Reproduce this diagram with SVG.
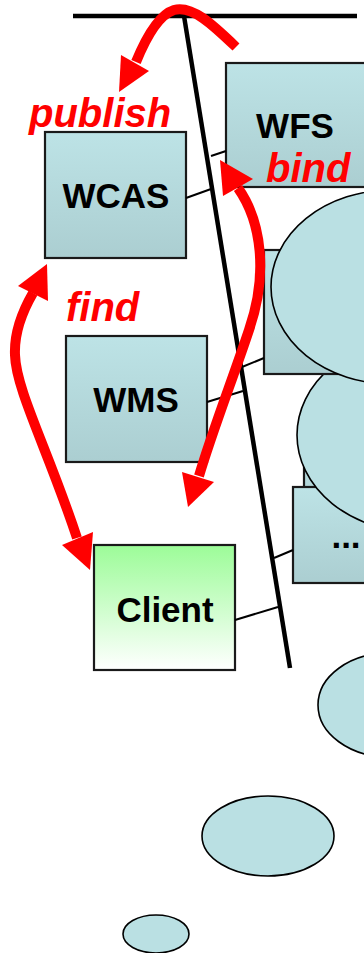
<svg xmlns="http://www.w3.org/2000/svg" width="364" height="953" viewBox="0 0 364 953">
<defs>
<linearGradient id="gBlue" x1="0" y1="0" x2="0" y2="1">
<stop offset="0" stop-color="#bde3e6"/>
<stop offset="1" stop-color="#abced1"/>
</linearGradient>
<linearGradient id="gGreen" x1="0" y1="0" x2="0" y2="1">
<stop offset="0" stop-color="#9cfc98"/>
<stop offset="1" stop-color="#ffffff"/>
</linearGradient>
<style>
.box{fill:url(#gBlue);stroke:#1a1a1a;stroke-width:2.2}
.client{fill:url(#gGreen);stroke:#1a1a1a;stroke-width:2.2}
.ell{fill:#bae0e3;stroke:#000;stroke-width:1.6}
.lbl{font-family:"Liberation Sans",Arial,sans-serif;font-weight:bold;font-size:35px;fill:#000;text-anchor:middle}
.red{font-family:"Liberation Sans",Arial,sans-serif;font-weight:bold;font-style:italic;font-size:40px;fill:#ff0000}
.conn{stroke:#000;stroke-width:2;fill:none}
.bus{stroke:#000;stroke-width:4.5;fill:none}
.arr{stroke:#ff0000;stroke-width:10;fill:none}
.head{fill:#ff0000}
</style>
</defs>
<rect width="364" height="953" fill="#fff"/>
<g id="ellipse3"><ellipse class="ell" cx="389" cy="705" rx="71" ry="52"/></g>
<g id="ellipse4"><ellipse class="ell" cx="268" cy="836" rx="66" ry="40"/></g>
<g id="ellipse5"><ellipse class="ell" cx="156" cy="934" rx="33" ry="19"/></g>
<g id="service2"><rect class="box" x="304" y="420" width="140" height="110"/></g>
<g id="more"><rect class="box" x="293" y="487" width="140" height="96"/><text class="lbl" x="346" y="548">...</text></g>
<g id="ellipse2"><ellipse class="ell" cx="417" cy="435" rx="120" ry="97"/></g>
<g id="service1"><rect class="box" x="264" y="250" width="140" height="124"/></g>
<g id="ellipse1"><ellipse class="ell" cx="391" cy="287" rx="120" ry="97"/></g>
<g id="wfs"><rect class="box" x="226" y="63" width="140" height="124"/><text class="lbl" x="295" y="138">WFS</text></g>
<g id="wcas"><rect class="box" x="45" y="132" width="141" height="126"/><text class="lbl" x="116" y="208">WCAS</text></g>
<g id="wms"><rect class="box" x="66" y="336" width="141" height="126"/><text class="lbl" x="136" y="412">WMS</text></g>
<g id="client"><rect class="client" x="94" y="545" width="141" height="125"/><text class="lbl" x="165" y="622">Client</text></g>
<g id="connectors">
<line class="bus" x1="73" y1="16" x2="357" y2="16"/>
<line class="bus" x1="184" y1="16" x2="290" y2="668"/>
<line class="conn" x1="186" y1="198" x2="211" y2="189"/>
<line class="conn" x1="211" y1="156" x2="226" y2="151"/>
<line class="conn" x1="242" y1="367" x2="264" y2="358"/>
<line class="conn" x1="207" y1="402" x2="243" y2="391"/>
<line class="conn" x1="274" y1="558" x2="293" y2="550"/>
<line class="conn" x1="235" y1="620" x2="278" y2="607"/>
</g>
<g id="arrows">
<path class="arr" d="M236,47 C212,24 192,5 174,10 C158,15 145,40 136,62"/>
<polygon class="head" points="119,92 121,55 149,71"/>
<path class="arr" d="M238,188 C262,222 268,275 249,330 C233,378 212,432 199,476"/>
<polygon class="head" points="220,160 253,179 223,196"/>
<polygon class="head" points="188,507 182,472 214,482"/>
<path class="arr" d="M33,293 C22,312 14,332 15,355 C16,390 48,450 77,538"/>
<polygon class="head" points="47,264 18,286 48,301"/>
<polygon class="head" points="90,570 62,545 93,532"/>
</g>
<g id="labels">
<text class="red" x="29" y="127">publish</text>
<text class="red" x="266" y="182">bind</text>
<text class="red" x="66" y="321">find</text>
</g>
</svg>
